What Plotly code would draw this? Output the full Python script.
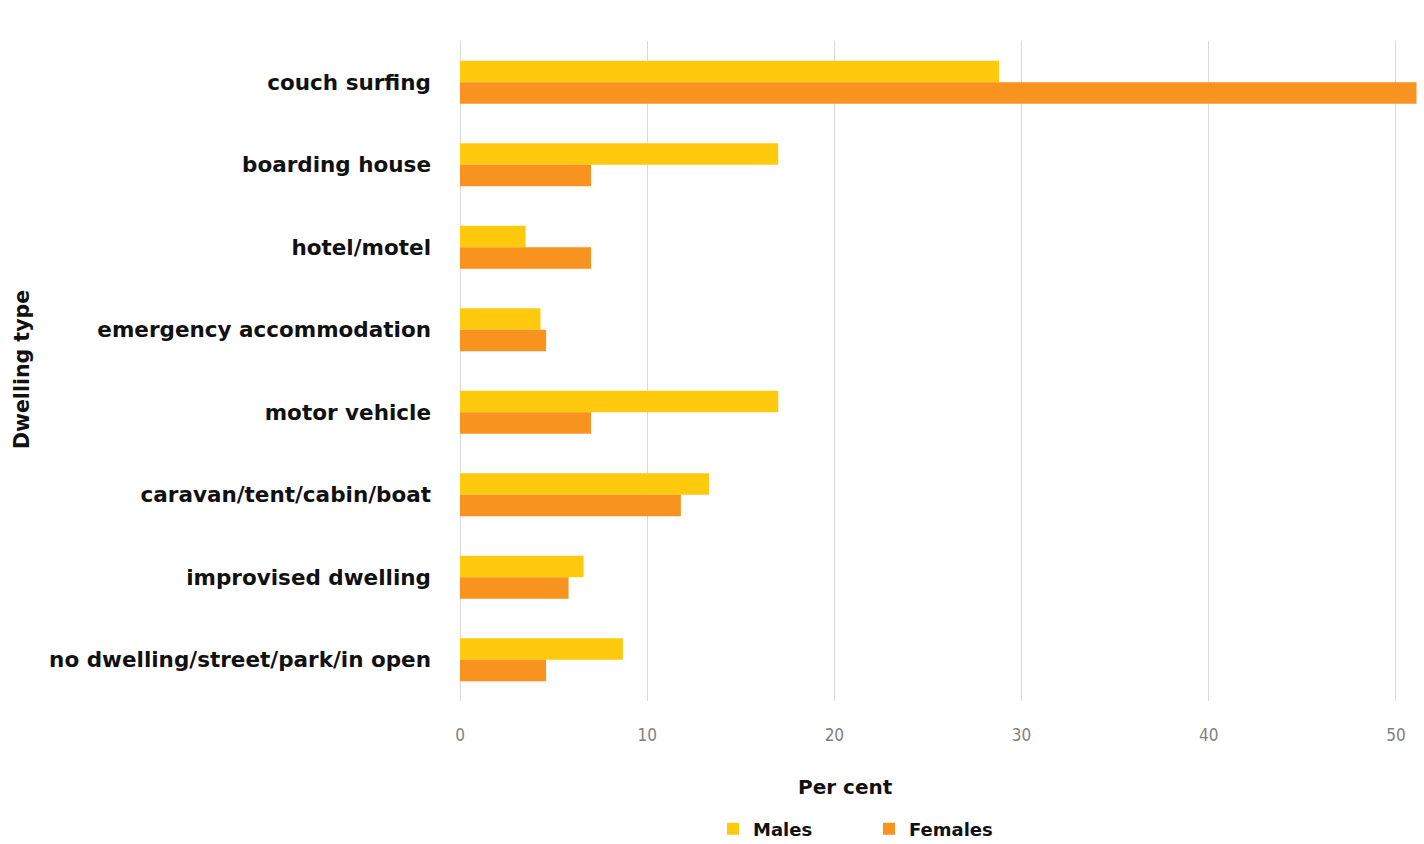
import plotly.graph_objects as go

# Dwelling types, listed top to bottom
categories = [
    "couch surfing",
    "boarding house",
    "hotel/motel",
    "emergency accommodation",
    "motor vehicle",
    "caravan/tent/cabin/boat",
    "improvised dwelling",
    "no dwelling/street/park/in open",
]
males = [28.8, 17.0, 3.5, 4.3, 17.0, 13.3, 6.6, 8.7]
females = [51.1, 7.0, 7.0, 4.6, 7.0, 11.8, 5.8, 4.6]
x_ticks = [0, 10, 20, 30, 40, 50]

W, H = 1424, 844
L, R, T, B = 460, 0, 41, 143
plot_w = W - L - R
plot_h = H - T - B


def px_x(x):
    return (x - L) / plot_w


def px_y(y):
    return (H - B - y) / plot_h


fig = go.Figure()
fig.add_trace(go.Bar(y=categories, x=males, name="Males", orientation="h",
                     marker=dict(color="#FFC90E", line=dict(width=0))))
fig.add_trace(go.Bar(y=categories, x=females, name="Females", orientation="h",
                     marker=dict(color="#F7931E", line=dict(width=0))))

fig.update_layout(
    width=W, height=H,
    margin=dict(l=L, r=R, t=T, b=B, autoexpand=False),
    paper_bgcolor="white", plot_bgcolor="white",
    barmode="group", bargap=0.48, bargroupgap=0,
    font=dict(family="DejaVu Sans", color="#111111"),
    xaxis=dict(range=[0, 51.5], tickvals=x_ticks, showgrid=True,
               gridcolor="#d9d9d9", gridwidth=1, zeroline=True,
               zerolinecolor="#d9d9d9", zerolinewidth=1,
               tickfont=dict(family="DejaVu Sans Condensed, Liberation Sans", size=17,
                             color="#808080"),
               ticks="", ticklabelstandoff=22),
    yaxis=dict(autorange="reversed", showgrid=False, ticks="",
               tickfont=dict(family="DejaVu Sans", size=21.5, color="#111111",
                             weight="bold"),
               ticklabelstandoff=28),
    legend=dict(orientation="h", x=px_x(713), xanchor="left", y=px_y(829),
                yanchor="middle",
                font=dict(family="DejaVu Sans", size=18, color="#111111", weight="bold"),
                itemwidth=30, entrywidth=111, traceorder="normal"),
    annotations=[
        dict(text="<b>Per cent</b>", x=px_x(845), y=px_y(787), xref="paper", yref="paper",
             xanchor="center", yanchor="middle", showarrow=False,
             font=dict(family="DejaVu Sans", size=20, color="#111111")),
        dict(text="<b>Dwelling type</b>", x=px_x(22), y=px_y(370), xref="paper",
             yref="paper", xanchor="center", yanchor="middle", showarrow=False,
             textangle=-90,
             font=dict(family="DejaVu Sans", size=20.5, color="#111111")),
    ],
)

fig.write_html("out.html")
